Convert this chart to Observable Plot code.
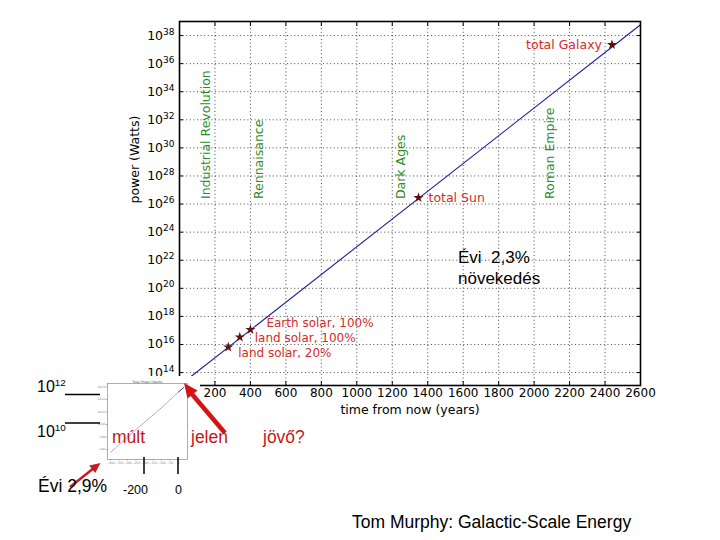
<!DOCTYPE html>
<html><head><meta charset="utf-8">
<script src="https://cdn.jsdelivr.net/npm/d3@7"></script>
<script src="https://cdn.jsdelivr.net/npm/@observablehq/plot@0.6"></script>
<style>
body{margin:0;background:#fff}
#slide{position:relative;width:720px;height:540px;overflow:hidden;background:#fff;font-family:"Liberation Sans",Arial,sans-serif}
#slide > *{position:absolute}
.t{white-space:pre;line-height:1;color:#000}
.red{color:#c21818}
sup{font-size:0.62em;position:relative;top:-0.15em;vertical-align:top}
</style></head><body><div id="slide"></div>
<script>
// ---- main chart data ----
const xTickYears = [0, 200, 400, 600, 800, 1000, 1200, 1400, 1600, 1800, 2000, 2200, 2400, 2600];
const yTickPowers = [1e14, 1e16, 1e18, 1e20, 1e22, 1e24, 1e26, 1e28, 1e30, 1e32, 1e34, 1e36, 1e38];
const growthYears = [0, 2600];
const growthPower = [1.2e13, 5.9e38];
const milestoneNames = ["land solar, 20%", "land solar, 100%", "Earth solar, 100%", "total Sun", "total Galaxy"];
const milestoneYears = [275, 340, 400, 1348, 2439];
const milestonePower = [6.5e15, 3.3e16, 1.15e17, 2.8e26, 2.2e37];
const eraNames = ["Industrial Revolution", "Rennaisance", "Dark Ages", "Roman Empire"];
const eraYears = [150, 450, 1250, 2090];
const eraPower = [1e26, 1e26, 1e26, 1e26];
// ---- inset (past growth) data ----
const pastYears = [-400, -300, -200, -100, 0, 30];
const pastPower = [6e7, 1e9, 1.5e10, 2.2e11, 4e12, 9e12];
const insetXTicks = [-400, -350, -300, -250, -200, -150, -100, -50, 0];
const insetYTicks = [1e8, 1e9, 1e10, 1e11, 1e12, 1e13];

const growth = growthYears.map((x, i) => ({x, y: growthPower[i]}));
const milestones = milestoneYears.map((x, i) => ({x, y: milestonePower[i], name: milestoneNames[i]}));
const eras = eraYears.map((x, i) => ({x, y: eraPower[i], name: eraNames[i]}));
const past = pastYears.map((x, i) => ({x, y: pastPower[i]}));

const RED = "#d42a2a", GREEN = "#2a8c2a", FS = 12.5, TFS = 12;
const label = (i, o) => Plot.text([milestones[i]], {x: "x", y: "y", text: "name", fill: RED, fontSize: FS, textAnchor: "start", ...o});
const gridStyle = {stroke: "#000", strokeOpacity: 0.9, strokeDasharray: "1,2.6", strokeWidth: 0.8};
const inTicks = (anchor, data) => (anchor === "top" || anchor === "bottom" ? Plot.axisX : Plot.axisY)(data, {anchor, tickSize: -4, tickFormat: () => "", label: null, stroke: "#000"});

const main = Plot.plot({
  width: 720, height: 540,
  marginLeft: 179, marginRight: 80, marginTop: 21, marginBottom: 155,
  style: {fontFamily: "'DejaVu Sans', sans-serif", fontSize: FS + "px", background: "transparent", color: "#000"},
  x: {domain: [0, 2600], axis: null},
  y: {type: "log", domain: [1.2e13, 1e39], axis: null},
  marks: [
    Plot.gridX(xTickYears.slice(1, -1), gridStyle),
    Plot.gridY(yTickPowers, gridStyle),
    Plot.axisX(xTickYears, {anchor: "bottom", tickSize: 0, tickPadding: 3, fontSize: TFS, label: null, tickFormat: d => String(d)}),
    Plot.axisY(yTickPowers, {anchor: "left", tickSize: 0, tickPadding: 5, fontSize: FS, label: null, tickFormat: d => "10^" + Math.round(Math.log10(d))}),
    inTicks("bottom", xTickYears), inTicks("top", xTickYears),
    inTicks("left", yTickPowers), inTicks("right", yTickPowers),
    Plot.line(growth, {x: "x", y: "y", stroke: "#1c1ca6", strokeWidth: 1.1}),
    Plot.dot(milestones, {x: "x", y: "y", symbol: "star", r: 3.2, fill: "#5c1212", stroke: "none"}),
    label(0, {dx: 10, dy: 6, fontSize: 12}),
    label(1, {dx: 15, dy: 1, fontSize: 12}),
    label(2, {dx: 16, dy: -6, fontSize: 12}),
    label(3, {dx: 10}),
    label(4, {dx: -10, textAnchor: "end"}),
    Plot.text(eras, {x: "x", y: "y", text: "name", rotate: -90, textAnchor: "start", fill: GREEN, fontSize: FS, dy: -5}),
    Plot.text(["power (Watts)"], {frameAnchor: "left", dx: -45, rotate: -90, text: d => d, fontSize: FS}),
    Plot.text(["time from now (years)"], {frameAnchor: "bottom", dy: 28, text: d => d, fontSize: FS}),
    Plot.frame({stroke: "#000", strokeWidth: 1.6})
  ]
});
main.style.left = "0px"; main.style.top = "0px";
main.querySelectorAll('[aria-label="y-axis tick label"] text').forEach(t => {
  const [base, exp] = t.textContent.split("^");
  if (exp === undefined) return;
  t.textContent = "";
  const ns = "http://www.w3.org/2000/svg";
  const a = document.createElementNS(ns, "tspan"); a.textContent = base; t.appendChild(a);
  const b = document.createElementNS(ns, "tspan"); b.textContent = exp;
  b.setAttribute("dy", "-5"); b.setAttribute("font-size", "0.72em"); t.appendChild(b);
});

const inset = Plot.plot({
  width: 104, height: 94,
  marginLeft: 11, marginRight: 13, marginTop: 7, marginBottom: 11,
  style: {fontFamily: "'DejaVu Sans', sans-serif", fontSize: "3px", background: "#fff", color: "#777"},
  x: {domain: [-418, 53], axis: null},
  y: {type: "log", domain: [10 ** 7.2, 10 ** 13.28], axis: null},
  marks: [
    Plot.axisX(insetXTicks, {tickSize: 1.5, tickPadding: 1, fontSize: 3, label: null, fill: "#888", stroke: "#aaa"}),
    Plot.axisY(insetYTicks, {tickSize: 1.5, tickPadding: 1, fontSize: 3, label: null, fill: "#888", stroke: "#aaa", tickFormat: d => "1e" + Math.round(Math.log10(d))}),
    Plot.line(past, {x: "x", y: "y", stroke: "#b873c8", strokeWidth: 0.8, strokeDasharray: "1.2,1"}),
    Plot.line(past.slice(-2), {x: "x", y: "y", stroke: "#5a3aa8", strokeWidth: 0.9}),
    Plot.text(["Total Power (Watts)"], {frameAnchor: "top", dy: -3, text: d => d, fontSize: 3.2, fill: "#555"}),
    Plot.frame({stroke: "#999", strokeWidth: 0.8})
  ]
});
inset.style.left = "96px"; inset.style.top = "376px";

const slide = document.getElementById("slide");
slide.appendChild(main);
slide.appendChild(inset);

const overlay = `<svg width="720" height="540" style="left:0;top:0" xmlns="http://www.w3.org/2000/svg">
  <line x1="65" y1="394.5" x2="100" y2="394.5" stroke="#000" stroke-width="1.5"/>
  <line x1="65" y1="423" x2="100" y2="423" stroke="#000" stroke-width="1.5"/>
  <line x1="144" y1="457" x2="144" y2="474" stroke="#000" stroke-width="1.5"/>
  <line x1="178" y1="457" x2="178" y2="474" stroke="#000" stroke-width="1.5"/>
  <line x1="225" y1="433" x2="191" y2="393" stroke="#d41414" stroke-width="4.5"/>
  <polygon points="184,383 197.5,390.5 187.5,398.5" fill="#d41414"/>
  <line x1="70" y1="487" x2="93" y2="468.8" stroke="#c41e1e" stroke-width="2.5"/>
  <polygon points="100.5,463 95.2,473 89.2,465.5" fill="#c41e1e"/>
</svg>`;
slide.insertAdjacentHTML("beforeend", overlay);

function txt(html, left, baseline, size, cls) {
  const d = document.createElement("div");
  d.className = "t " + (cls || "");
  d.innerHTML = html;
  d.style.left = left + "px";
  d.style.fontSize = size + "px";
  d.style.top = (baseline - 0.8465 * size) + "px";
  slide.appendChild(d);
}
txt("Évi  2,3%", 458, 263, 17);
txt("növekedés", 458, 284, 17);
txt("10<sup>12</sup>", 37, 393, 16);
txt("10<sup>10</sup>", 37, 438, 16);
txt("múlt", 112, 444, 17.5, "red");
txt("jelen", 191, 444, 17.5, "red");
txt("jövő?", 263, 444, 17.5, "red");
txt("Évi 2,9%", 38, 493, 17.5);
txt("-200", 123, 495, 12.5);
txt("0", 175, 495, 12.5);
txt("Tom Murphy: Galactic-Scale Energy", 352, 529, 17.5);
</script></body></html>
